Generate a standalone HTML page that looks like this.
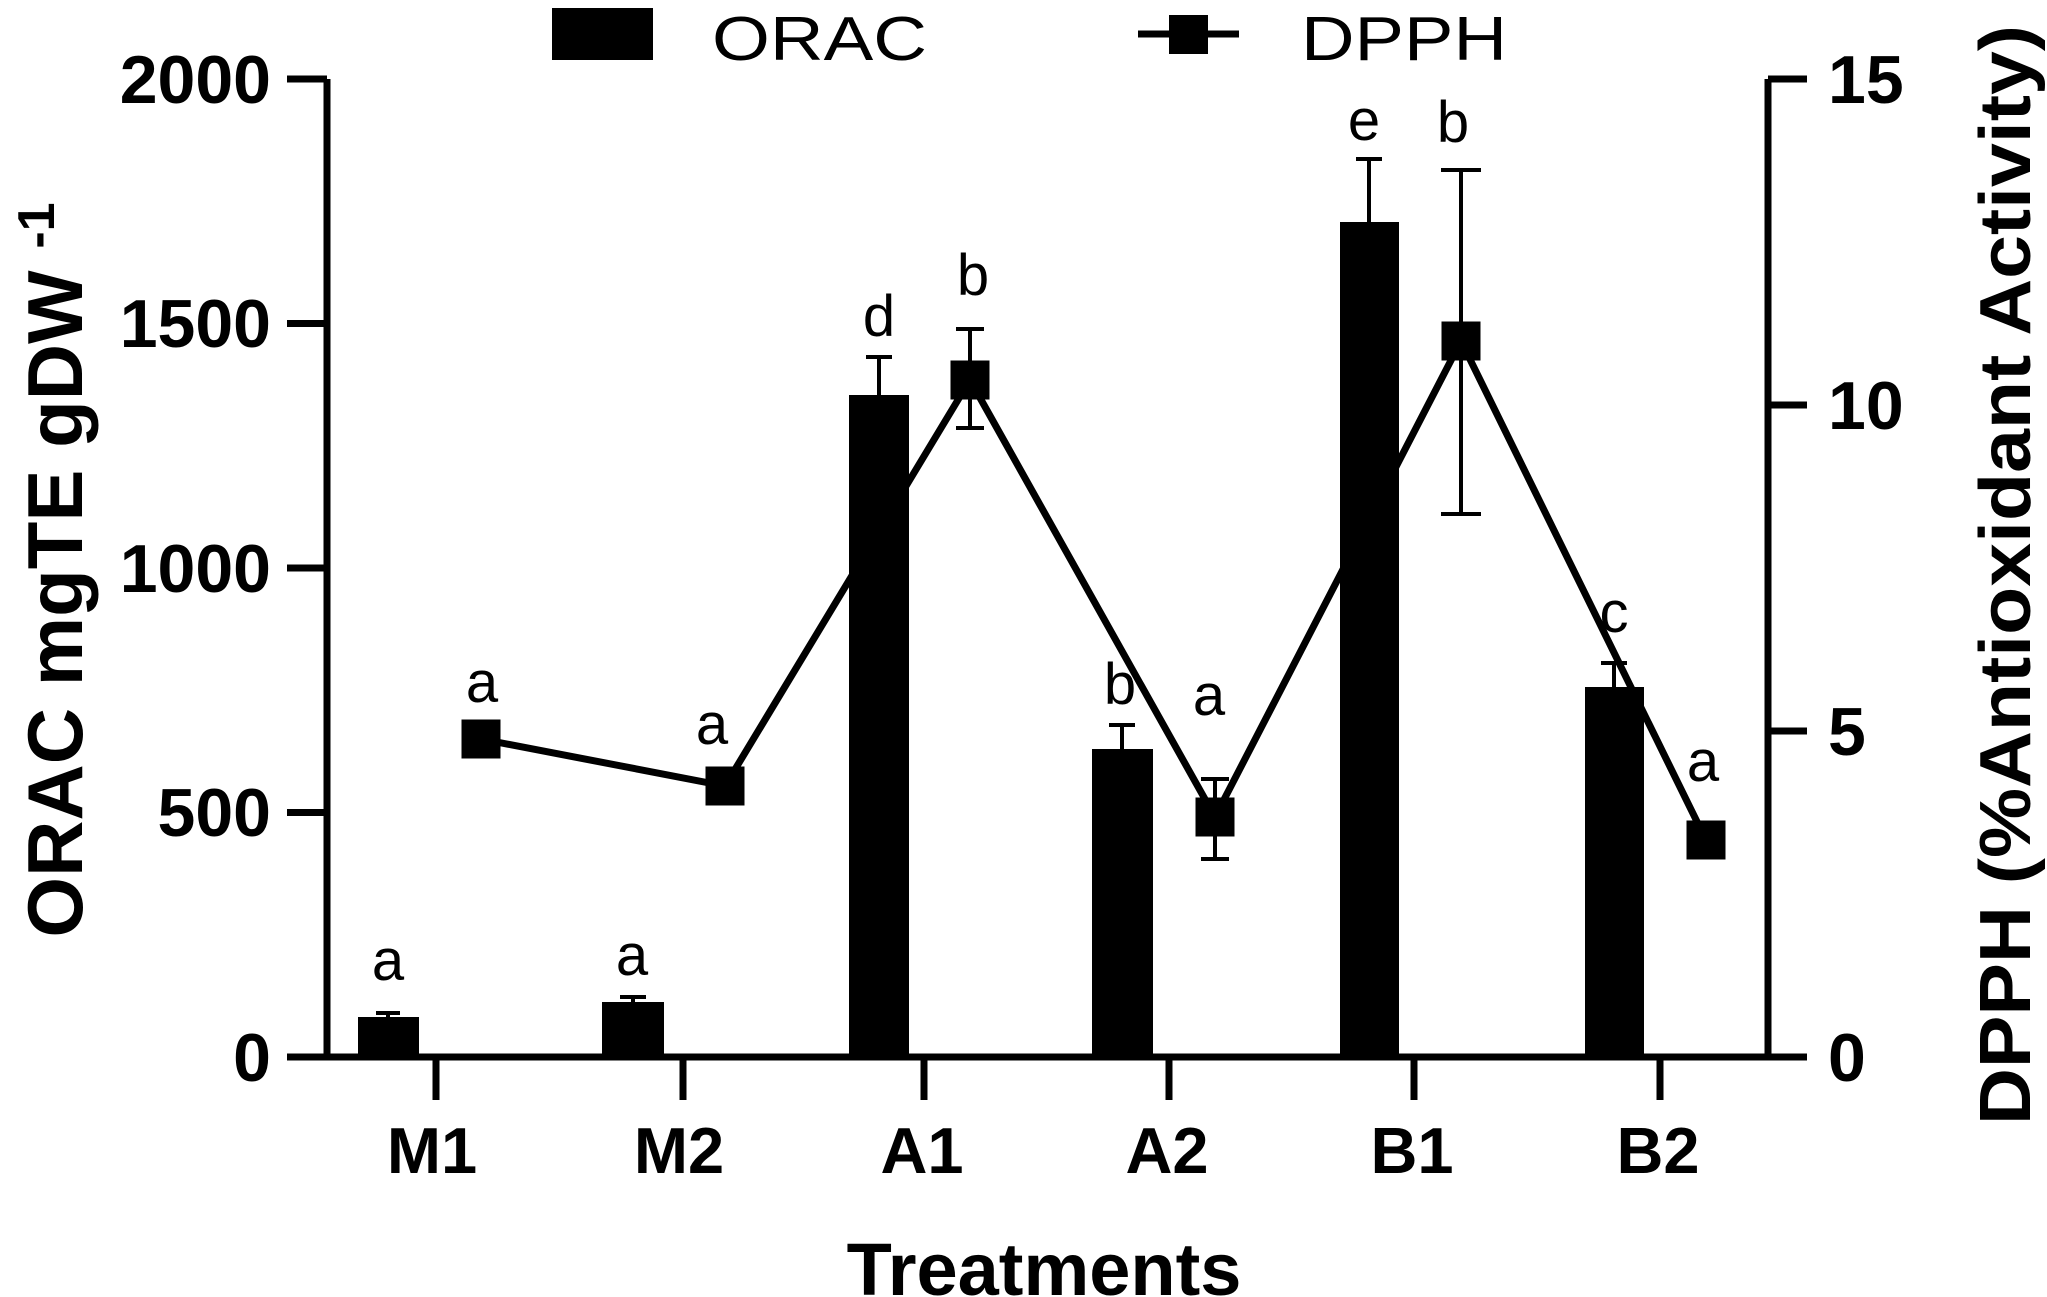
<!DOCTYPE html>
<html><head><meta charset="utf-8"><style>html,body{margin:0;padding:0;background:#fff}svg{display:block}</style></head>
<body>
<svg width="2047" height="1297" viewBox="0 0 2047 1297" xmlns="http://www.w3.org/2000/svg" font-family="Liberation Sans, Arial, sans-serif">
<rect width="2047" height="1297" fill="#fff"/>
<!-- Legend -->
<rect x="552" y="8" width="101" height="52" fill="#000"/>
<text x="712" y="60" font-size="62" textLength="215" lengthAdjust="spacingAndGlyphs">ORAC</text>
<line x1="1138" y1="34" x2="1239" y2="34" stroke="#000" stroke-width="7"/>
<rect x="1169" y="15" width="39" height="39" fill="#000"/>
<text x="1301" y="60" font-size="62" textLength="206" lengthAdjust="spacingAndGlyphs">DPPH</text>

<g stroke="#000" stroke-width="7" fill="none">
<line x1="327" y1="79" x2="327" y2="1057"/>
<line x1="287" y1="79" x2="327" y2="79"/>
<line x1="287" y1="323.5" x2="327" y2="323.5"/>
<line x1="287" y1="568" x2="327" y2="568"/>
<line x1="287" y1="812.5" x2="327" y2="812.5"/>
<line x1="287" y1="1057" x2="1807" y2="1057"/>
<line x1="1768" y1="79" x2="1768" y2="1057"/>
<line x1="1768" y1="79" x2="1807" y2="79"/>
<line x1="1768" y1="405" x2="1807" y2="405"/>
<line x1="1768" y1="731" x2="1807" y2="731"/>
<line x1="436" y1="1057" x2="436" y2="1100"/>
<line x1="683" y1="1057" x2="683" y2="1100"/>
<line x1="924" y1="1057" x2="924" y2="1100"/>
<line x1="1169" y1="1057" x2="1169" y2="1100"/>
<line x1="1414" y1="1057" x2="1414" y2="1100"/>
<line x1="1660" y1="1057" x2="1660" y2="1100"/>
</g>
<g font-size="68" font-weight="bold" text-anchor="end">
<text x="271" y="103">2000</text>
<text x="271" y="347">1500</text>
<text x="271" y="592">1000</text>
<text x="271" y="836">500</text>
<text x="271" y="1081">0</text>
</g>
<g font-size="68" font-weight="bold" text-anchor="start">
<text x="1828" y="103">15</text>
<text x="1828" y="429">10</text>
<text x="1828" y="755">5</text>
<text x="1828" y="1081">0</text>
</g>
<g font-size="65" font-weight="bold" text-anchor="middle">
<text x="432" y="1173">M1</text>
<text x="679" y="1173">M2</text>
<text x="922" y="1173">A1</text>
<text x="1167" y="1173">A2</text>
<text x="1412" y="1173">B1</text>
<text x="1658" y="1173">B2</text>
</g>
<text x="1044" y="1295" font-size="74" font-weight="bold" text-anchor="middle">Treatments</text>
<text transform="translate(82,570) rotate(-90)" font-size="78" font-weight="bold" text-anchor="middle">ORAC mgTE gDW <tspan font-size="52" dy="-28">-1</tspan></text>
<text transform="translate(2030,575) rotate(-90)" font-size="72" font-weight="bold" text-anchor="middle" textLength="1100" lengthAdjust="spacingAndGlyphs">DPPH (%Antioxidant Activity)</text>

<g fill="#000">
<rect x="358" y="1017" width="61" height="40"/>
<rect x="602" y="1002" width="62" height="55"/>
<rect x="849" y="395" width="60" height="662"/>
<rect x="1092" y="749" width="61" height="308"/>
<rect x="1340" y="222" width="59" height="835"/>
<rect x="1585" y="687" width="59" height="370"/>
</g>
<g stroke="#000" stroke-width="4" fill="none">
<path d="M388 1017V1013M376 1013H400"/>
<path d="M633 1002V997M620 997H646"/>
<path d="M879 395V357M866 357H892"/>
<path d="M1122 749V725M1109 725H1135"/>
<path d="M1369 222V159M1356 159H1382"/>
<path d="M1614 687V663M1601 663H1627"/>
<path d="M970 329V428M956 329H984M956 428H984"/>
<path d="M1215 779V859M1201 779H1229M1201 859H1229"/>
<path d="M1461 170V514M1441 170H1481M1441 514H1481"/>
</g>
<polyline points="481,739 725,786 970,380 1215,817 1461,341 1706,840" fill="none" stroke="#000" stroke-width="7"/>
<g fill="#000">
<rect x="461.5" y="719.5" width="39" height="39"/>
<rect x="705.5" y="766.5" width="39" height="39"/>
<rect x="950.5" y="360.5" width="39" height="39"/>
<rect x="1195.5" y="797.5" width="39" height="39"/>
<rect x="1441.5" y="321.5" width="39" height="39"/>
<rect x="1686.5" y="820.5" width="39" height="39"/>
</g>
<g font-size="58" text-anchor="middle">
<text x="388" y="980">a</text>
<text x="632" y="975">a</text>
<text x="879" y="336">d</text>
<text x="973" y="295">b</text>
<text x="482" y="702">a</text>
<text x="712" y="744">a</text>
<text x="1120" y="704">b</text>
<text x="1209" y="715">a</text>
<text x="1364" y="140">e</text>
<text x="1453" y="142">b</text>
<text x="1614" y="632">c</text>
<text x="1703" y="781">a</text>
</g>
</svg>
</body></html>
